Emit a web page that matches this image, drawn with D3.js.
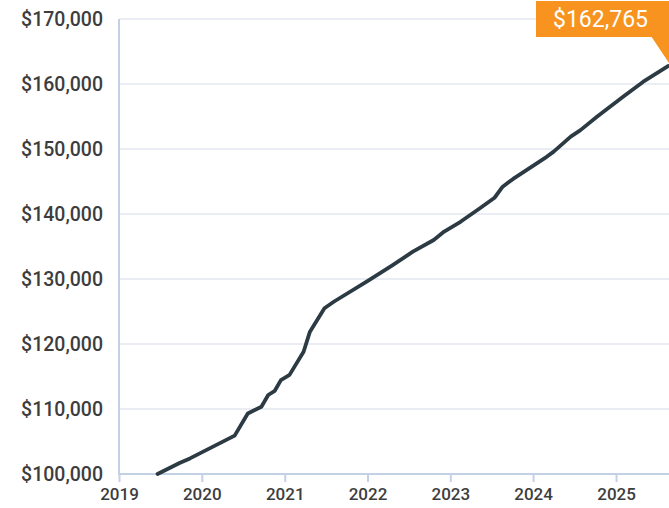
<!DOCTYPE html>
<html>
<head>
<meta charset="utf-8">
<script src="https://cdn.jsdelivr.net/npm/d3@7"></script>
<style>
  body { margin: 0; background: #fff; }
  svg { display: block; }
  .tick text { font-family: Roboto, "DejaVu Sans", sans-serif; font-weight: 500; fill: #3d3d3d; }
</style>
</head>
<body>
<div id="chart"></div>
<script>
// data
var dates = ["2019-06-20", "2019-09-25", "2019-11-10", "2020-05-25", "2020-07-22", "2020-09-20",
  "2020-10-20", "2020-11-18", "2020-12-15", "2021-01-22", "2021-03-25", "2021-04-22",
  "2021-06-25", "2021-08-05", "2021-12-28", "2022-04-22", "2022-07-20", "2022-10-20",
  "2022-12-05", "2023-02-15", "2023-05-10", "2023-07-15", "2023-08-20", "2023-10-05",
  "2024-03-01", "2024-04-01", "2024-06-15", "2024-07-28", "2024-10-10", "2025-02-01",
  "2025-05-01", "2025-08-18"];
var values = [100000, 101700, 102400, 105900, 109300, 110350,
  112150, 112800, 114450, 115250, 118800, 121900,
  125500, 126500, 129600, 132150, 134200, 136000,
  137300, 138800, 140850, 142500, 144200, 145400,
  148800, 149600, 151900, 152900, 155000, 158050,
  160350, 162765];
var yTicks = [100000, 110000, 120000, 130000, 140000, 150000, 160000, 170000];
var xTickYears = [2019, 2020, 2021, 2022, 2023, 2024, 2025];

var width = 669, height = 508;
var margin = {top: 19, right: 1, bottom: 34, left: 119};

var parse = d3.timeParse("%Y-%m-%d");
var data = dates.map(function(d, i) { return {date: parse(d), value: values[i]}; });

var svg = d3.select("#chart").append("svg")
    .attr("width", width)
    .attr("height", height);

var x = d3.scaleTime()
    .domain([new Date(2019, 0, 1), data[data.length - 1].date])
    .range([margin.left, width - margin.right]);

var y = d3.scaleLinear()
    .domain([100000, 170000])
    .range([height - margin.bottom, margin.top]);

// grid lines
svg.append("g")
    .selectAll("line")
    .data(yTicks)
    .enter().append("line")
    .attr("x1", margin.left)
    .attr("x2", width)
    .attr("y1", function(d) { return y(d); })
    .attr("y2", function(d) { return y(d); })
    .attr("stroke", "#d6deea")
    .attr("stroke-width", 1.2);

// y axis
var yAxis = d3.axisLeft(y)
    .tickValues(yTicks)
    .tickSize(0)
    .tickPadding(16)
    .tickFormat(function(d) { return "$" + d3.format(",")(d); });

var yAxisGroup = svg.append("g")
    .attr("transform", "translate(" + margin.left + ",0)")
    .call(yAxis);
yAxisGroup.select(".domain").remove();
yAxisGroup.selectAll("text").style("font-size", "19.5px");

svg.append("line")
    .attr("x1", margin.left).attr("x2", margin.left)
    .attr("y1", margin.top).attr("y2", height - margin.bottom + 1)
    .attr("stroke", "#c3d1e7")
    .attr("stroke-width", 2);

// x axis
var xAxis = d3.axisBottom(x)
    .tickValues(xTickYears.map(function(yr) { return new Date(yr, 0, 1); }))
    .tickSize(8)
    .tickPadding(6)
    .tickFormat(d3.timeFormat("%Y"));

var xAxisGroup = svg.append("g")
    .attr("transform", "translate(0," + (height - margin.bottom) + ")")
    .call(xAxis);
xAxisGroup.select(".domain").remove();
xAxisGroup.selectAll("line").attr("stroke", "#c3d1e7").attr("stroke-width", 2);
xAxisGroup.selectAll("text").style("font-size", "17px");

svg.append("line")
    .attr("x1", margin.left - 1).attr("x2", width)
    .attr("y1", y(100000)).attr("y2", y(100000))
    .attr("stroke", "#c3d1e7")
    .attr("stroke-width", 2);

// the line
var line = d3.line()
    .x(function(d) { return x(d.date); })
    .y(function(d) { return y(d.value); });

svg.append("path")
    .datum(data)
    .attr("d", line)
    .attr("fill", "none")
    .attr("stroke", "#2c3a44")
    .attr("stroke-width", 3.8)
    .attr("stroke-linejoin", "round")
    .attr("stroke-linecap", "round");

// callout for last value
var last = data[data.length - 1];
var px = x(last.date), py = y(last.value);
var boxW = 133, boxH = 36, boxR = width, boxTop = 1;

var callout = svg.append("g");
callout.append("polygon")
    .attr("points", [[boxR - 18, boxTop + boxH - 1], [boxR, boxTop + boxH - 1], [px + 1, py - 3]].join(" "))
    .attr("fill", "#f7931e");
callout.append("rect")
    .attr("x", boxR - boxW)
    .attr("y", boxTop)
    .attr("width", boxW)
    .attr("height", boxH)
    .attr("fill", "#f7931e");
callout.append("text")
    .attr("x", boxR - boxW / 2 - 2)
    .attr("y", boxTop + boxH / 2 + 8)
    .attr("text-anchor", "middle")
    .style("font-family", "Roboto, 'DejaVu Sans', sans-serif")
    .style("font-size", "23px")
    .style("fill", "#fff")
    .text("$" + d3.format(",")(last.value));
</script>
</body>
</html>
